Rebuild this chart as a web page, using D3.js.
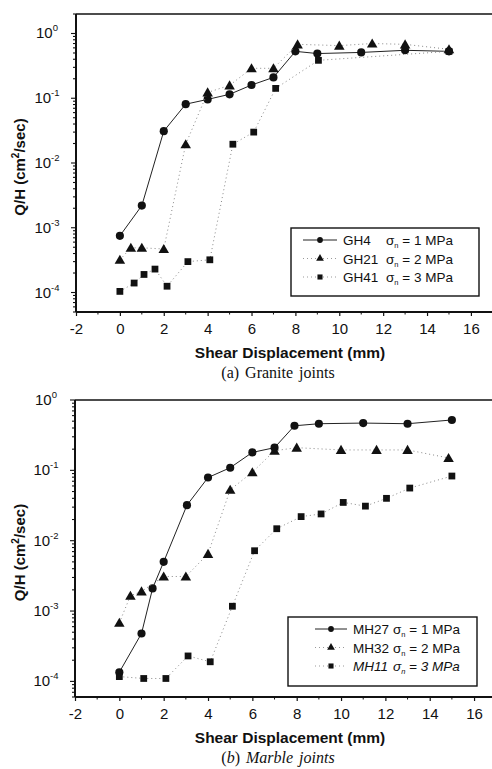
<!DOCTYPE html>
<html>
<head>
<meta charset="utf-8">
<script src="https://cdnjs.cloudflare.com/ajax/libs/d3/7.8.5/d3.min.js"></script>
<style>
  body { margin: 0; background: #fff; }
  svg { display: block; }
  text { font-family: "Liberation Sans", Arial, sans-serif; fill: #111; }
</style>
</head>
<body>
<div id="chart"></div>
<script>
// ---- data ----
var xTicks = [-2, 0, 2, 4, 6, 8, 10, 12, 14, 16];

// (a) granite
var gh4X  = [0, 1, 2, 3, 4, 5, 6, 7, 8, 9, 11, 13, 15];
var gh4Y  = [7.5e-4, 2.2e-3, 0.031, 0.081, 0.096, 0.115, 0.16, 0.21, 0.53, 0.49, 0.51, 0.55, 0.53];
var gh21X = [0, 0.5, 1, 2, 3, 4, 5, 6, 7, 8.1, 10, 11.5, 13, 15];
var gh21Y = [3.2e-4, 4.9e-4, 4.9e-4, 4.7e-4, 0.0195, 0.123, 0.158, 0.29, 0.29, 0.68, 0.65, 0.70, 0.68, 0.57];
var gh41X = [0, 0.65, 1.1, 1.6, 2.15, 3.1, 4.1, 5.15, 6.1, 7.1, 9.05, 15];
var gh41Y = [1.04e-4, 1.4e-4, 1.9e-4, 2.3e-4, 1.25e-4, 3.0e-4, 3.2e-4, 0.0195, 0.030, 0.142, 0.385, 0.53];

// (b) marble
var mh27X = [0, 1, 1.5, 2, 3.05, 4, 5, 6, 7, 7.9, 9, 11, 13, 15];
var mh27Y = [1.35e-4, 4.8e-4, 2.1e-3, 5.0e-3, 0.032, 0.079, 0.109, 0.18, 0.21, 0.43, 0.46, 0.47, 0.46, 0.52];
var mh32X = [0, 0.5, 1, 2, 3, 4, 5, 6, 7, 8, 10, 11.6, 13, 14.85];
var mh32Y = [6.8e-4, 1.65e-3, 1.9e-3, 3.1e-3, 3.1e-3, 6.5e-3, 0.053, 0.094, 0.19, 0.21, 0.195, 0.195, 0.195, 0.15];
var mh11X = [0, 1.1, 2.1, 3.1, 4.1, 5.1, 6.1, 7.1, 8.2, 9.1, 10.1, 11.1, 12.05, 13.1, 15];
var mh11Y = [1.17e-4, 1.1e-4, 1.1e-4, 2.3e-4, 1.9e-4, 1.17e-3, 7.2e-3, 0.0148, 0.022, 0.024, 0.035, 0.031, 0.040, 0.056, 0.083];

var granite = [
  {name: "GH4",  stress: "1", marker: "circle",   line: "solid",  x: gh4X,  y: gh4Y},
  {name: "GH21", stress: "2", marker: "triangle", line: "dotted", x: gh21X, y: gh21Y},
  {name: "GH41", stress: "3", marker: "square",   line: "dotted", x: gh41X, y: gh41Y}
];
var marble = [
  {name: "MH27", stress: "1", marker: "circle",   line: "solid",  x: mh27X, y: mh27Y},
  {name: "MH32", stress: "2", marker: "triangle", line: "dotted", x: mh32X, y: mh32Y},
  {name: "MH11", stress: "3", marker: "square",   line: "dotted", x: mh11X, y: mh11Y, italic: true}
];

var width = 492, height = 769;

var svg = d3.select("#chart").append("svg")
  .attr("width", width)
  .attr("height", height);

var symbolType = {circle: d3.symbolCircle, triangle: d3.symbolTriangle, square: d3.symbolSquare};
var symbolSize = {circle: 52, triangle: 48, square: 46};

function drawPanel(p) {
  var x = d3.scaleLinear().domain([-2, 17]).range([p.left, p.left + 19 * p.unit]);
  var y = d3.scaleLog().domain(p.yDomain).range([p.bottom, p.top]);

  var g = svg.append("g");

  // frame top line
  g.append("line")
    .attr("x1", p.left).attr("x2", width)
    .attr("y1", p.top).attr("y2", p.top)
    .style("stroke", "#111").style("stroke-width", 1.6);

  // x axis
  var xAxis = g.append("g")
    .attr("transform", "translate(0," + p.bottom + ")")
    .call(d3.axisBottom(x).tickValues(xTicks).tickSize(4).tickPadding(7)
      .tickFormat(function(d){ return String(d); }));
  xAxis.select(".domain").remove();
  g.append("line")
    .attr("x1", p.left).attr("x2", width)
    .attr("y1", p.bottom).attr("y2", p.bottom)
    .style("stroke", "#111").style("stroke-width", 1.8);
  g.selectAll("line.xminor")
    .data(d3.range(-1, 17, 2))
    .enter().append("line")
    .attr("x1", function(d){ return x(d); })
    .attr("x2", function(d){ return x(d); })
    .attr("y1", p.bottom).attr("y2", p.bottom + 2.5)
    .style("stroke", "#111");
  xAxis.selectAll("line").style("stroke", "#111").style("stroke-width", 1.2);
  xAxis.selectAll("text").style("font-size", "15px").style("font-family", "Liberation Sans, Arial, sans-serif");

  // y axis (log, minor ticks)
  g.append("line")
    .attr("x1", p.left).attr("x2", p.left)
    .attr("y1", p.top).attr("y2", p.bottom)
    .style("stroke", "#111").style("stroke-width", 2);

  var allTicks = y.ticks().filter(function(d){ return d >= p.yDomain[0] && d <= p.yDomain[1]; });
  function isDecade(d) {
    var e = Math.log10(d);
    return Math.abs(e - Math.round(e)) < 1e-6;
  }
  g.selectAll("line.ytick")
    .data(allTicks)
    .enter().append("line")
    .attr("x1", p.left)
    .attr("x2", function(d){ return p.left - (isDecade(d) ? 5 : 3); })
    .attr("y1", function(d){ return y(d); })
    .attr("y2", function(d){ return y(d); })
    .style("stroke", "#111").style("stroke-width", 1.1);

  var lab = g.selectAll("text.ylab")
    .data(allTicks.filter(isDecade))
    .enter().append("text")
    .attr("x", p.left - 29)
    .attr("y", function(d){ return y(d) + 5; })
    .attr("text-anchor", "middle")
    .style("font-size", "15px");
  lab.append("tspan").text("10");
  lab.append("tspan")
    .attr("dy", -7)
    .style("font-size", "9.5px")
    .text(function(d){ return String(Math.round(Math.log10(d))); });

  // y title
  var yt = g.append("text")
    .attr("transform", "translate(" + 25 + "," + ((p.top + p.bottom) / 2 + 4) + ") rotate(-90)")
    .attr("text-anchor", "middle")
    .style("font-size", "15px")
    .style("font-weight", "bold");
  yt.append("tspan").text("Q/H (cm");
  yt.append("tspan").attr("dy", -6).style("font-size", "10px").text("2");
  yt.append("tspan").attr("dy", 6).text("/sec)");

  // x title and caption
  g.append("text")
    .attr("x", 290).attr("y", p.bottom + 46)
    .attr("text-anchor", "middle")
    .style("font-size", "15.5px")
    .style("font-weight", "bold")
    .text("Shear Displacement (mm)");
  var cap = g.append("text")
    .attr("x", 278).attr("y", p.bottom + 66)
    .attr("text-anchor", "middle")
    .style("font-family", "Liberation Serif, Times New Roman, serif")
    .style("font-size", "16px")
    .style("word-spacing", "2px");
  cap.append("tspan").text("(");
  cap.append("tspan").style("font-style", p.capItalic ? "italic" : "normal").text(p.letter);
  cap.append("tspan").text(") ");
  cap.append("tspan").style("font-style", p.capItalic ? "italic" : "normal").text(p.caption);

  // series
  var line = d3.line()
    .x(function(d){ return x(d[0]); })
    .y(function(d){ return y(d[1]); });

  p.series.forEach(function(s){
    var pts = s.x.map(function(v, i){ return [v, s.y[i]]; });
    g.append("path")
      .datum(pts)
      .attr("d", line)
      .style("fill", "none")
      .style("stroke", s.line == "solid" ? "#222" : "#888")
      .style("stroke-width", 1)
      .style("stroke-dasharray", s.line == "solid" ? null : "1,3");
    g.selectAll("path." + s.name)
      .data(pts)
      .enter().append("path")
      .attr("class", s.name)
      .attr("transform", function(d){
        return "translate(" + x(d[0]) + "," + (y(d[1]) + (s.marker == "triangle" ? 1 : 0)) + ")";
      })
      .attr("d", d3.symbol().type(symbolType[s.marker]).size(symbolSize[s.marker]))
      .style("fill", "#111");
  });

  // legend
  var L = p.legend;
  g.append("rect")
    .attr("x", L.x).attr("y", L.y)
    .attr("width", L.w).attr("height", L.h)
    .style("fill", "#fff")
    .style("stroke", "#111").style("stroke-width", 1.4);
  p.series.forEach(function(s, i){
    var ry = L.y + 12 + i * 18.5;
    g.append("line")
      .attr("x1", L.lineX0).attr("x2", L.lineX1)
      .attr("y1", ry).attr("y2", ry)
      .style("stroke", s.line == "solid" ? "#222" : "#999")
      .style("stroke-width", 1)
      .style("stroke-dasharray", s.line == "solid" ? null : "1,3");
    g.append("path")
      .attr("transform", "translate(" + (L.lineX0 + L.lineX1) / 2 + "," + ry + ")")
      .attr("d", d3.symbol().type(symbolType[s.marker]).size(26))
      .style("fill", "#111");
    g.append("text")
      .attr("x", L.textX).attr("y", ry + 5)
      .style("font-size", "13.5px")
      .style("font-style", s.italic ? "italic" : "normal")
      .text(s.name);
    var t2 = g.append("text")
      .attr("x", L.sigmaX).attr("y", ry + 5)
      .style("font-size", "13.5px")
      .style("font-style", s.italic ? "italic" : "normal");
    t2.append("tspan").text("\u03c3");
    t2.append("tspan").attr("dy", 3).style("font-size", "7.5px").text("n");
    t2.append("tspan").attr("dy", -3).text(" = " + s.stress + " MPa");
  });
}

drawPanel({
  left: 76, unit: 21.94, top: 14, bottom: 312,
  yDomain: [5e-5, 2],
  letter: "a", caption: "Granite joints", capItalic: false,
  series: granite,
  legend: {x: 291, y: 228, w: 188, h: 68, lineX0: 303, lineX1: 337, textX: 343, sigmaX: 386}
});

drawPanel({
  left: 75, unit: 22.17, top: 400, bottom: 697,
  yDomain: [6e-5, 1],
  letter: "b", caption: "Marble joints", capItalic: true,
  series: marble,
  legend: {x: 288, y: 617, w: 189, h: 69, lineX0: 315, lineX1: 347, textX: 353, sigmaX: 393}
});
</script>
</body>
</html>
